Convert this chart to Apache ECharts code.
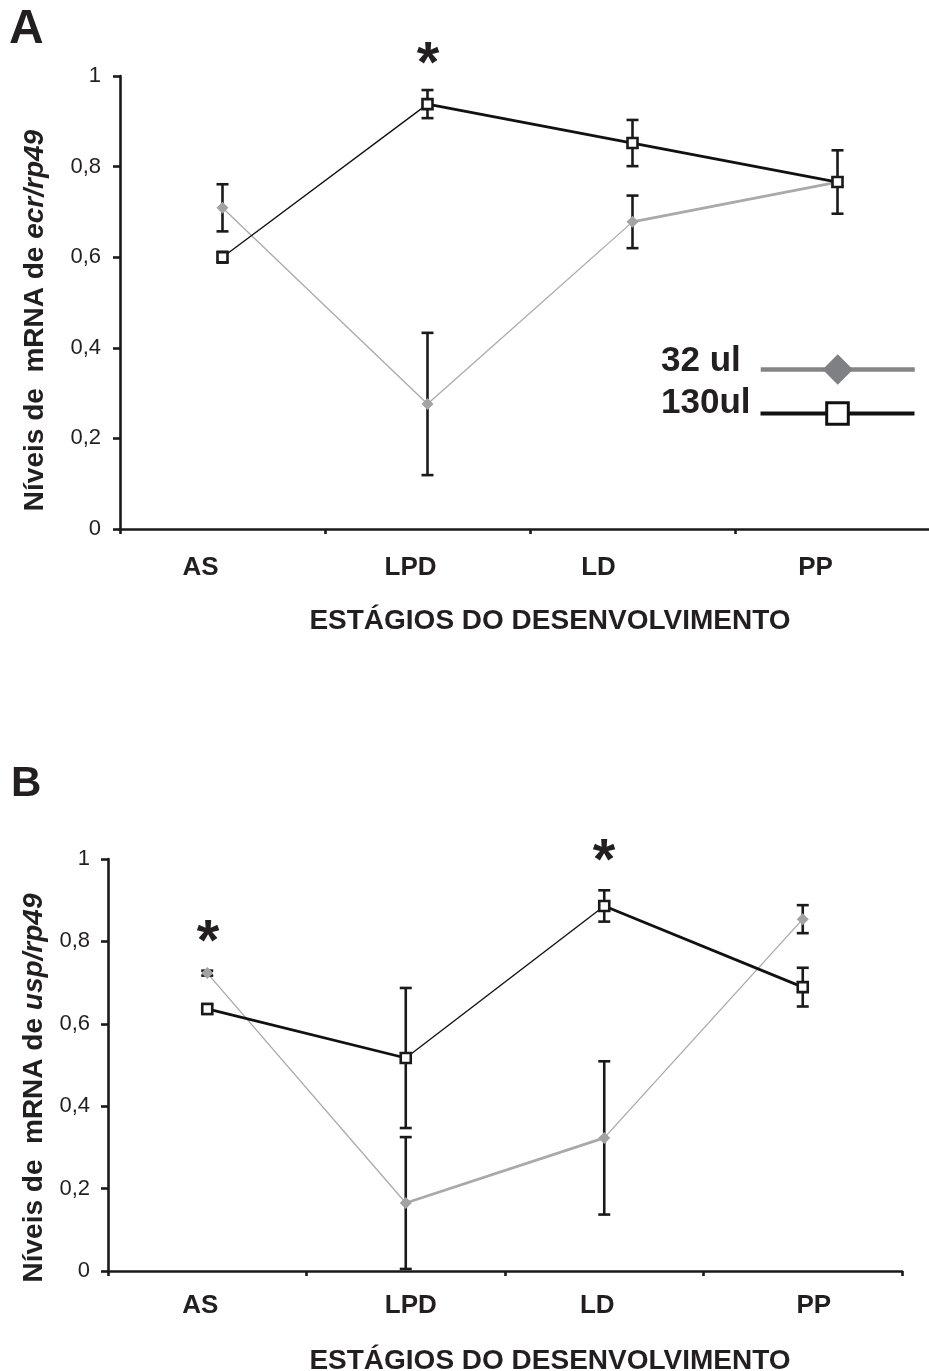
<!DOCTYPE html>
<html><head><meta charset="utf-8">
<script src="https://cdn.jsdelivr.net/npm/echarts@6/dist/echarts.min.js"></script>
<style>html,body{margin:0;padding:0;background:#fff}#c{width:929px;height:1371px}</style>
</head><body><div id="c"></div>
<script>
// ---- data ----
const categories = ['AS', 'LPD', 'LD', 'PP'];
const ecr32 = [0.709, 0.276, 0.678, 0.766];
const ecr32Err = [0.052, 0.157, 0.058, 0.01];
const ecr130 = [0.600, 0.938, 0.852, 0.766];
const ecr130Err = [0.012, 0.031, 0.051, 0.07];
const usp32 = [0.723, 0.165, 0.323, 0.854];
const usp32Err = [0.006, 0.16, 0.186, 0.034];
const usp130 = [0.636, 0.517, 0.886, 0.689];
const usp130Err = [0.012, 0.17, 0.038, 0.047];
const seriesNames = ['32 ul', '130ul'];
const yMin = 0, yMax = 1, yStep = 0.2;

// ---- style ----
const FONT = "'Liberation Sans', Arial, sans-serif";
const INK = '#231f20';
const AXC = '#1a1a1a';
const GRAY = '#a9a9a9';
const GRAYM = '#a3a3a3';
const wA32 = [1.3, 1.3, 2.8], wA130 = [1.4, 2.8, 2.8];
const wB32 = [1.3, 2.8, 1.3], wB130 = [2.8, 1.4, 2.8];
const labShiftA = [-22, -17, -34, -22];
const labShiftB = [-7, 5, -7, 11];

function richShift(shifts, fs) {
  const r = {};
  shifts.forEach((s, i) => {
    r['s' + i] = {fontSize: fs, fontWeight: 'bold', fontFamily: FONT, color: INK,
      padding: s < 0 ? [0, -2 * s, 0, 0] : [0, 0, 0, 2 * s]};
  });
  return r;
}

function xAxisOf(g, shifts, margin, nameGap, namePadL) {
  return {
    type: 'category', gridIndex: g, data: categories, boundaryGap: true,
    axisLine: {lineStyle: {color: AXC, width: 2.6}},
    axisTick: {show: true, length: 5, interval: 0, lineStyle: {color: AXC, width: 2.6}},
    axisLabel: {interval: 0, margin: margin,
      formatter: (v, i) => '{s' + i + '|' + v + '}',
      rich: richShift(shifts, 26)},
    name: 'ESTÁGIOS DO DESENVOLVIMENTO', nameLocation: 'middle', nameGap: nameGap,
    nameTextStyle: {fontSize: 28, fontWeight: 'bold', fontFamily: FONT, color: INK, padding: [0, 0, 0, namePadL]}
  };
}
function yAxisOf(g, gene, nameGap, padR, lmargin) {
  return {
    type: 'value', gridIndex: g, min: yMin, max: yMax, interval: yStep,
    axisLine: {show: true, lineStyle: {color: AXC, width: 2.6}},
    axisTick: {show: true, length: 7, lineStyle: {color: AXC, width: 2.6}},
    splitLine: {show: false},
    axisLabel: {fontSize: 22, color: INK, fontFamily: FONT, margin: lmargin,
      formatter: v => String(+v.toFixed(1)).replace('.', ',')},
    name: '{r|Níveis de  mRNA de }{i|' + gene + '}', nameLocation: 'middle', nameRotate: 90, nameGap: nameGap,
    nameTextStyle: {padding: [0, padR, 0, 0],
      rich: {r: {fontSize: 28, fontWeight: 'bold', fontFamily: FONT, color: INK},
             i: {fontSize: 28, fontWeight: 'bold', fontStyle: 'italic', fontFamily: FONT, color: INK}}}
  };
}

function segSeries(g, vals, widths, color) {
  const out = [];
  for (let i = 0; i < vals.length - 1; i++) {
    out.push({type: 'line', name: 'seg', xAxisIndex: g, yAxisIndex: g, silent: true, z: 2,
      symbol: 'none', connectNulls: false, animation: false,
      lineStyle: {color: color, width: widths[i]},
      data: vals.map((v, j) => (j === i || j === i + 1) ? v : null)});
  }
  return out;
}
function errRender(params, api) {
  const i = api.value(0), m = api.value(1), e = api.value(2);
  const t = api.coord([i, m + e]), b = api.coord([i, m - e]);
  const h = 6;
  const st = {stroke: AXC, lineWidth: 2.6};
  return {type: 'group', children: [
    {type: 'line', shape: {x1: t[0], y1: t[1], x2: b[0], y2: b[1]}, style: st},
    {type: 'line', shape: {x1: t[0] - h, y1: t[1], x2: t[0] + h, y2: t[1]}, style: st},
    {type: 'line', shape: {x1: b[0] - h, y1: b[1], x2: b[0] + h, y2: b[1]}, style: st}
  ]};
}
function errSeries(g, vals, errs) {
  return {type: 'custom', name: 'err', xAxisIndex: g, yAxisIndex: g, z: 3, silent: true, animation: false,
    renderItem: errRender, encode: {x: 0, y: 1},
    data: vals.map((v, i) => [i, v, errs[i]])};
}
function markSeries(g, name, vals, kind) {
  const s = {type: 'line', name: name, xAxisIndex: g, yAxisIndex: g, z: 5, animation: false,
    lineStyle: {opacity: 0, width: 0}, data: vals, showAllSymbol: true};
  if (kind === 'diamond') {
    s.symbol = 'diamond'; s.symbolSize = 12; s.itemStyle = {color: GRAYM};
  } else {
    s.symbol = 'rect'; s.symbolSize = 10; s.itemStyle = {color: '#fff', borderColor: AXC, borderWidth: 2.6};
  }
  return s;
}

const series = [].concat(
  segSeries(0, ecr32, wA32, GRAY), segSeries(0, ecr130, wA130, '#111'),
  [errSeries(0, ecr32, ecr32Err), errSeries(0, ecr130, ecr130Err)],
  [markSeries(0, seriesNames[0], ecr32, 'diamond'), markSeries(0, seriesNames[1], ecr130, 'rect')],
  segSeries(1, usp32, wB32, GRAY), segSeries(1, usp130, wB130, '#111'),
  [errSeries(1, usp32, usp32Err), errSeries(1, usp130, usp130Err)],
  [markSeries(1, seriesNames[0] , usp32, 'diamond'), markSeries(1, seriesNames[1], usp130, 'rect')]
);

function legendText(padR, padB) {
  return {formatter: n => '{t|' + n + '}',
    textStyle: {fontSize: 35, fontWeight: 'bold', fontFamily: FONT, color: INK,
      rich: {t: {fontSize: 35, fontWeight: 'bold', fontFamily: FONT, color: INK, padding: [0, padR, padB, 0]}}}};
}
const legendBase = {orient: 'vertical', align: 'right', selectedMode: false, itemWidth: 154, left: 656};
const option = {
  backgroundColor: '#fff',
  animation: false,
  grid: [
    {left: 120, top: 76, width: 820, height: 453, outerBoundsMode: 'none', containLabel: false},
    {left: 108, top: 859, width: 794, height: 412, outerBoundsMode: 'none', containLabel: false}
  ],
  xAxis: [xAxisOf(0, labShiftA, 26, 78, 40), xAxisOf(1, labShiftB, 22, 76, 90)],
  yAxis: [yAxisOf(0, 'ecr/rp49', 71, 36, 19), yAxisOf(1, 'usp/rp49', 59, 46, 18)],
  legend: [
    Object.assign({}, legendBase, {top: 339, itemHeight: 38,
      data: [{name: seriesNames[0], itemStyle: {color: '#7e8083', borderWidth: 0},
              lineStyle: {color: '#858585', width: 4.5, opacity: 1}}]}, legendText(15, 16)),
    Object.assign({}, legendBase, {top: 381, itemHeight: 27,
      data: [{name: seriesNames[1], itemStyle: {color: '#fff', borderColor: '#111', borderWidth: 3},
              lineStyle: {color: '#111', width: 4, opacity: 1}}]}, legendText(5, 20))
  ],
  graphic: [
    {type: 'text', left: 9, top: 6, style: {text: 'A', fontSize: 48, fontWeight: 'bold', fontFamily: FONT, fill: INK}},
    {type: 'text', left: 11, top: 763, style: {text: 'B', fontSize: 42, fontWeight: 'bold', fontFamily: FONT, fill: INK}},
    {type: 'text', x: 428, y: 66, style: {text: '*', fontSize: 58, fontWeight: 'bold', fontFamily: FONT, fill: INK, align: 'center', verticalAlign: 'middle'}},
    {type: 'text', x: 208, y: 944, style: {text: '*', fontSize: 58, fontWeight: 'bold', fontFamily: FONT, fill: INK, align: 'center', verticalAlign: 'middle'}},
    {type: 'text', x: 604, y: 863, style: {text: '*', fontSize: 58, fontWeight: 'bold', fontFamily: FONT, fill: INK, align: 'center', verticalAlign: 'middle'}}
  ],
  series: series
};
echarts.init(document.getElementById('c'), null, {renderer: 'canvas'}).setOption(option);
</script></body></html>
